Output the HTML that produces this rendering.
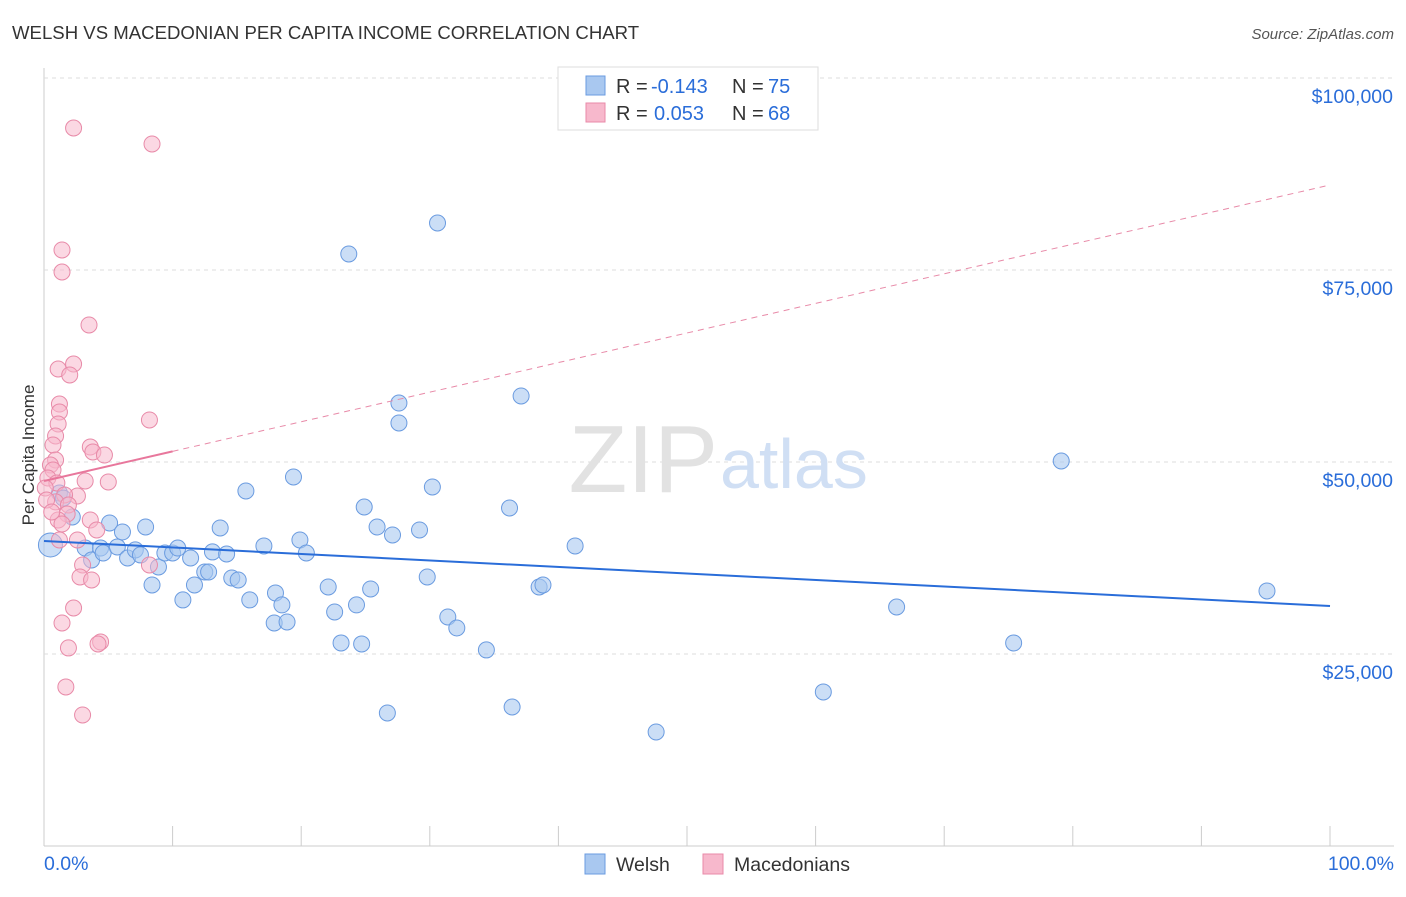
<!DOCTYPE html>
<html><head><meta charset="utf-8"><style>
body{margin:0;background:#fff;font-family:"Liberation Sans",sans-serif;}
svg text{font-family:"Liberation Sans",sans-serif;}
</style></head><body>
<svg id="c" width="1406" height="892">
<text x="12" y="39" font-size="18.6" fill="#333">WELSH VS MACEDONIAN PER CAPITA INCOME CORRELATION CHART</text>
<text x="1394" y="39" font-size="15" fill="#555" text-anchor="end" font-style="italic">Source: ZipAtlas.com</text>
<text x="34" y="455" font-size="17" fill="#333" transform="rotate(-90 34 455)" text-anchor="middle">Per Capita Income</text>
<g id="grid"></g>
<text x="718" y="492" font-size="96" fill="#e2e2e2" text-anchor="end" font-family="Liberation Serif">ZIP</text>
<text x="720" y="488" font-size="70" fill="#d0dff4">atlas</text>
<g id="pts"></g>
<g id="lines"></g>
<g>
<rect x="558" y="67" width="260" height="63" fill="#fff" stroke="#ddd"/>
<rect x="586" y="76" width="19" height="19" fill="#a9c8f0" stroke="#6a9be0"/>
<rect x="586" y="103" width="19" height="19" fill="#f7b8cc" stroke="#e88aa8"/>
<text x="616" y="93" font-size="20" fill="#333">R =</text>
<text x="651" y="93" font-size="20" fill="#2a6dd9">-0.143</text>
<text x="732" y="93" font-size="20" fill="#333">N =</text>
<text x="768" y="93" font-size="20" fill="#2a6dd9">75</text>
<text x="616" y="120" font-size="20" fill="#333">R =</text>
<text x="654" y="120" font-size="20" fill="#2a6dd9">0.053</text>
<text x="732" y="120" font-size="20" fill="#333">N =</text>
<text x="768" y="120" font-size="20" fill="#2a6dd9">68</text>
</g>
<text x="44" y="870" font-size="19.5" fill="#2a6dd9">0.0%</text>
<text x="1394" y="870" font-size="19.5" fill="#2a6dd9" text-anchor="end">100.0%</text>
<g>
<rect x="585" y="854" width="20" height="20" fill="#a9c8f0" stroke="#6a9be0"/>
<text x="616" y="871" font-size="19.5" fill="#333">Welsh</text>
<rect x="703" y="854" width="20" height="20" fill="#f7b8cc" stroke="#e88aa8"/>
<text x="734" y="871" font-size="19.5" fill="#333">Macedonians</text>
</g>
</svg>
<script>
const yTicks=[25000,50000,75000,100000];
const yTickLabels=["$25,000","$50,000","$75,000","$100,000"];
const welshX=[0.5,1.2,1.5,2.2,3.2,3.7,4.4,4.6,5.1,5.7,6.1,6.5,7.1,7.5,7.9,8.4,8.9,9.4,10.0,10.4,10.8,11.4,11.7,12.5,12.8,13.1,13.7,14.2,14.6,15.1,15.7,16.0,17.1,17.9,18.0,18.5,18.9,19.4,19.9,20.4,22.1,22.6,23.1,23.7,24.3,24.7,24.9,25.4,25.9,26.7,27.1,27.6,27.6,29.2,29.8,30.2,30.6,31.4,32.1,34.4,36.2,36.4,37.1,38.5,38.8,41.3,47.6,60.6,66.3,75.4,79.1,95.1];
const welshY=[39200,45970,45300,42840,38800,37240,38800,38150,42060,38940,40890,37500,38550,37900,41540,33990,36330,38150,38150,38800,32040,37500,33990,35680,35680,38290,41410,38020,34900,34640,46230,32040,39070,29040,32950,31390,29170,48050,39850,38150,33730,30470,26440,77090,31390,26310,44140,33470,41540,17320,40500,57680,55080,41150,35030,46750,81120,29820,28390,25530,44010,18100,58600,33730,33990,39070,14850,20060,31120,26440,50130,33210];
const macX=[2.3,8.4,1.4,1.4,3.5,2.3,1.1,2.0,1.2,1.2,1.1,0.9,0.7,8.2,3.6,3.8,4.7,0.9,0.5,0.7,0.3,5.0,3.2,1.0,2.6,1.6,0.9,1.9,1.8,1.1,3.6,1.4,4.1,2.6,3.0,2.8,3.7,2.3,1.4,4.4,4.2,1.9,1.7,3.0,0.1,0.2,0.6,1.2,8.2];
const macY=[93490,91410,77610,74740,67840,62760,62110,61330,57550,56510,54950,53390,52220,55470,51960,51310,50910,50260,49610,48960,47920,47400,47530,47270,45580,45710,44800,44400,43230,42450,42450,41930,41150,39850,36590,35030,34640,30990,29040,26570,26310,25790,20710,17060,46620,45060,43490,39850,36590];
const welshTrend=[39720,31250];
const macTrend=[47530,86070];
const NS="http://www.w3.org/2000/svg";
const X=p=>44+p*12.86, Y=v=>846-v/25000*192;
function mk(t,a,p){const e=document.createElementNS(NS,t);for(const k in a)e.setAttribute(k,a[k]);p.appendChild(e);return e;}
const grid=document.getElementById('grid');
mk('line',{x1:44,y1:68,x2:44,y2:846,stroke:'#ccc'},grid);
mk('line',{x1:44,y1:846,x2:1394,y2:846,stroke:'#ccc'},grid);
yTicks.forEach((v,i)=>{
 const l=mk('line',{x1:44,y1:Y(v),x2:1394,y2:Y(v),stroke:'#ddd','stroke-dasharray':'4,4'},grid);
 
 
 const t=mk('text',{x:1393,y:Y(v)+25,'font-size':19.5,fill:'#2a6dd9','text-anchor':'end'},grid);
 t.textContent=yTickLabels[i];
 
 
});
for(let i=0;i<=10;i++){const l=mk('line',{x1:X(i*10),y1:826,x2:X(i*10),y2:846,stroke:'#ccc'},grid);
 
 }
const pts=document.getElementById('pts');
welshX.forEach((x,i)=>{const c=mk('circle',{cx:X(x),cy:Y(welshY[i]),r:i==0?12:8,fill:'#a9c8f0','fill-opacity':0.6,stroke:'#6a9be0','stroke-width':1},pts);
 
 });
macX.forEach((x,i)=>{const c=mk('circle',{cx:X(x),cy:Y(macY[i]),r:8,fill:'#f7b8cc','fill-opacity':0.55,stroke:'#e88aa8','stroke-width':1},pts);
 
 });
const ln=document.getElementById('lines');
const b=mk('line',{x1:X(0),y1:Y(welshTrend[0]),x2:X(100),y2:Y(welshTrend[1]),stroke:'#2a6dd9','stroke-width':2},ln);


const mAt=p=>macTrend[0]+(macTrend[1]-macTrend[0])*p/100;
const pd=mk('line',{x1:X(10),y1:Y(mAt(10)),x2:X(100),y2:Y(mAt(100)),stroke:'#e88aa8','stroke-width':1,'stroke-dasharray':'6,5'},ln);


const ps=mk('line',{x1:X(0),y1:Y(mAt(0)),x2:X(10),y2:Y(mAt(10)),stroke:'#e8779c','stroke-width':2},ln);


</script>
</body></html>
